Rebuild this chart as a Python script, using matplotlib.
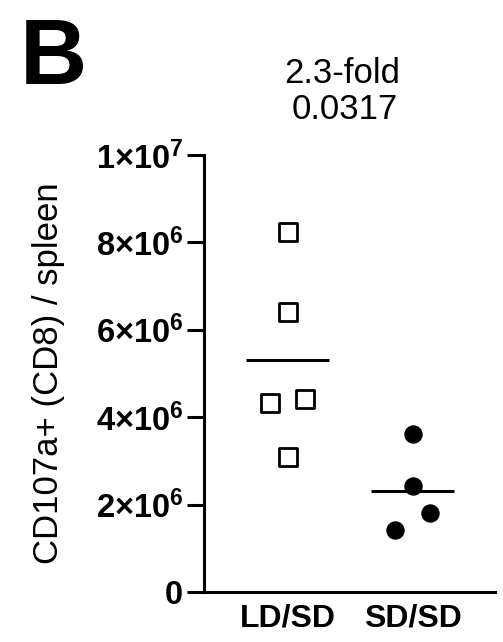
import matplotlib
matplotlib.use("Agg")
import matplotlib.pyplot as plt
from matplotlib.ticker import FixedLocator, FuncFormatter
import numpy as np

plt.rcParams['font.family'] = ['Liberation Sans', 'DejaVu Sans']
plt.rcParams['mathtext.fontset'] = 'custom'
plt.rcParams['mathtext.rm'] = 'Liberation Sans'
plt.rcParams['mathtext.bf'] = 'Liberation Sans:bold'

# cells per spleen
groups = ['LD/SD', 'SD/SD']
ld_sd = [8.24e6, 6.41e6, 4.33e6, 4.42e6, 3.10e6]
ld_sd_offset = [0.0, 0.0, -0.14, 0.14, 0.0]
sd_sd = [3.61e6, 2.43e6, 1.80e6, 1.42e6]
sd_sd_offset = [0.0, 0.0, 0.14, -0.14]
y_ticks = [0, 2e6, 4e6, 6e6, 8e6, 1e7]
fold_text = '2.3-fold'
p_text = '0.0317'


def sci_label(v, pos):
    if v == 0:
        return r'$\mathbf{0}$'
    exp = int(np.floor(np.log10(v)))
    mant = int(round(v / 10 ** exp))
    return r'$\mathbf{%d{\times}10^{%d}}$' % (mant, exp)


fig = plt.figure(figsize=(5.03, 6.42), dpi=100)
ax = fig.add_axes([0.4056, 0.0779, 0.5785, 0.6807])

ax.scatter(np.array(ld_sd_offset) + 0, ld_sd, marker='s', s=150,
           facecolor='white', edgecolor='black', linewidth=2.0, zorder=3)
ax.scatter(np.array(sd_sd_offset) + 1, sd_sd, marker='o', s=150,
           color='black', zorder=3)

# group means
for i, vals in enumerate([ld_sd, sd_sd]):
    ax.hlines(np.mean(vals), i - 0.33, i + 0.33, color='black', lw=2.2, zorder=2)

ax.set_xlim(-0.67, 1.66)
ax.set_ylim(0, 1e7)
ax.set_xticks([0, 1])
ax.set_xticklabels(groups, fontsize=23, fontweight='bold')
ax.yaxis.set_major_locator(FixedLocator(y_ticks))
ax.yaxis.set_major_formatter(FuncFormatter(sci_label))
ax.tick_params(axis='y', labelsize=23.5, length=12, width=2.2, pad=3)
ax.tick_params(axis='x', length=0, pad=8)

for side in ['top', 'right']:
    ax.spines[side].set_visible(False)
for side in ['left', 'bottom']:
    ax.spines[side].set_linewidth(2.2)

ax.set_ylabel('CD107a+ (CD8) / spleen', fontsize=25, labelpad=22)

fig.text(0.04, 0.906, 'B', fontsize=67, fontweight='bold', ha='left', va='center')
fig.text(0.68, 0.885, fold_text, fontsize=25, ha='center', va='center')
fig.text(0.686, 0.829, p_text, fontsize=25, ha='center', va='center')

fig.savefig('out.png', dpi=100)
